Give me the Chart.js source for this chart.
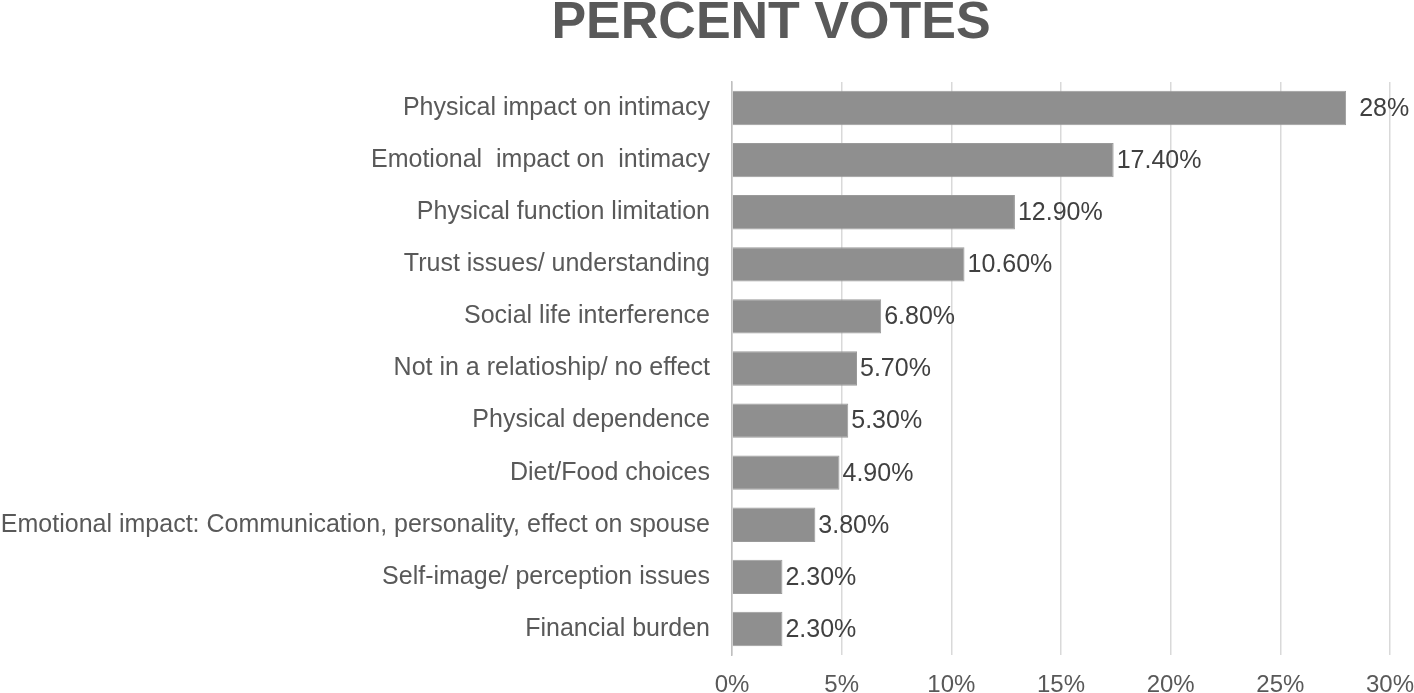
<!DOCTYPE html>
<html>
<head>
<meta charset="utf-8">
<script src="https://cdn.jsdelivr.net/npm/chart.js@4"></script>
<style>
  html, body { margin: 0; padding: 0; background: #fff; }
  #wrap { width: 1414px; height: 693px; }
</style>
</head>
<body>
<div id="wrap"><canvas id="votesChart" width="1414" height="693"></canvas></div>
<script>
// chart data
const categories = [
    'Physical impact on intimacy',
    'Emotional  impact on  intimacy',
    'Physical function limitation',
    'Trust issues/ understanding',
    'Social life interference',
    'Not in a relatioship/ no effect',
    'Physical dependence',
    'Diet/Food choices',
    'Emotional impact: Communication, personality, effect on spouse',
    'Self-image/ perception issues',
    'Financial burden'
];
const percentVotes = [28, 17.4, 12.9, 10.6, 6.8, 5.7, 5.3, 4.9, 3.8, 2.3, 2.3];
const valueLabels = ['28%', '17.40%', '12.90%', '10.60%', '6.80%', '5.70%', '5.30%', '4.90%', '3.80%', '2.30%', '2.30%'];
const chartTitle = 'PERCENT VOTES';

const fontFamily = '"Liberation Sans", Arial, Helvetica, sans-serif';

// draws the title centred over the bars area like the original
const titlePlugin = {
    id: 'titlePlugin',
    afterDraw(chart) {
        const ctx = chart.ctx;
        ctx.save();
        ctx.font = 'bold 52px ' + fontFamily;
        ctx.fillStyle = '#595959';
        ctx.textAlign = 'center';
        ctx.textBaseline = 'alphabetic';
        ctx.fillText(chartTitle, 771, 38);
        ctx.restore();
    }
};

// value labels at the end of each bar
const valueLabelPlugin = {
    id: 'valueLabelPlugin',
    afterDatasetsDraw(chart) {
        const ctx = chart.ctx;
        const meta = chart.getDatasetMeta(0);
        ctx.save();
        ctx.font = '25px ' + fontFamily;
        ctx.fillStyle = '#404040';
        ctx.textAlign = 'left';
        ctx.textBaseline = 'middle';
        meta.data.forEach((bar, i) => {
            const offset = i === 0 ? 13 : 3;
            ctx.fillText(valueLabels[i], bar.x + offset, bar.y + 1);
        });
        ctx.restore();
    }
};

const ctx = document.getElementById('votesChart').getContext('2d');
new Chart(ctx, {
    type: 'bar',
    data: {
        labels: categories,
        datasets: [{
            label: 'Percent votes',
            data: percentVotes,
            backgroundColor: '#8f8f8f',
            borderColor: '#9a9a9a',
            borderWidth: 1,
            categoryPercentage: 1,
            barPercentage: 0.66
        }]
    },
    options: {
        indexAxis: 'y',
        responsive: false,
        animation: false,
        layout: {
            padding: { top: 82, right: 0, bottom: 0, left: 0 }
        },
        scales: {
            x: {
                min: 0,
                max: 30,
                ticks: {
                    stepSize: 5,
                    padding: 16,
                    color: '#595959',
                    font: { family: fontFamily, size: 24 },
                    callback: v => v + '%'
                },
                grid: {
                    color: '#d9d9d9',
                    lineWidth: 1.5,
                    drawTicks: false
                },
                border: { display: false },
                afterFit(scale) {
                    scale.height = 38;
                    scale.paddingRight = 24;
                }
            },
            y: {
                ticks: {
                    padding: 22,
                    color: '#595959',
                    font: { family: fontFamily, size: 25 }
                },
                grid: { display: false, drawTicks: false },
                border: { display: true, color: '#bfbfbf', width: 1.5 },
                afterFit(scale) {
                    scale.width = 732;
                }
            }
        },
        plugins: {
            legend: { display: false },
            tooltip: { enabled: false },
            title: { display: false }
        }
    },
    plugins: [titlePlugin, valueLabelPlugin]
});
</script>
</body>
</html>
